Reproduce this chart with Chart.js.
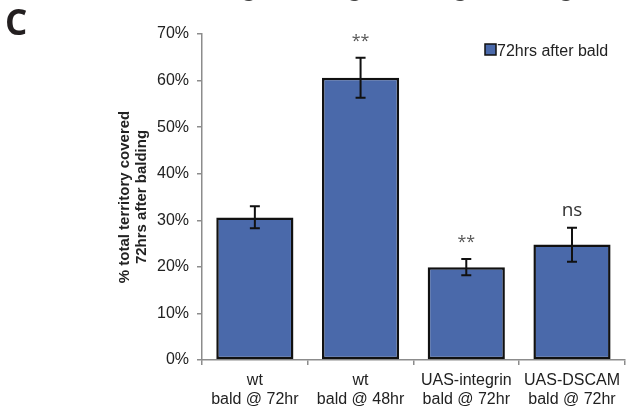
<!DOCTYPE html>
<html>
<head>
<meta charset="utf-8">
<script src="https://cdn.jsdelivr.net/npm/chart.js@4.4.1/dist/chart.umd.min.js"></script>
<style>
    html, body { margin: 0; padding: 0; background: #fff; }
    canvas { display: block; }
</style>
</head>
<body>
<canvas id="territoryChart" width="626" height="410"></canvas>
<script>
// data
var categories = [['wt', 'bald @ 72hr'], ['wt', 'bald @ 48hr'], ['UAS-integrin', 'bald @ 72hr'], ['UAS-DSCAM', 'bald @ 72hr']];
var coverage   = [30.6, 60.6, 19.9, 24.8];
var errLow     = [28.3, 56.3, 18.2, 21.1];
var errHigh    = [33.0, 64.9, 21.7, 28.4];
var sigLabels  = ['', '**', '**', 'ns'];
var yTicks     = [0, 10, 20, 30, 40, 50, 60, 70];
var seriesName = '72hrs after bald';
var yTitle     = ['% total territory covered', '72hrs after balding'];
var panelLetter = 'C';
var prevPanelText = 'bald @ 72hr';

(function () {
    var canvas = document.getElementById('territoryChart');
    if (!canvas) return;
    var ctx = canvas.getContext('2d');

    var BLUE = '#4a69aa';
    var AXIS = '#8c8c8c';
    var TEXT = '#222222';

    // error bars + significance marks
    var errorBarPlugin = {
        id: 'errorBars',
        afterDatasetsDraw: function (chart) {
            var c = chart.ctx;
            var y = chart.scales.y;
            var meta = chart.getDatasetMeta(0);
            c.save();
            c.strokeStyle = '#111';
            c.lineWidth = 2;
            meta.data.forEach(function (bar, i) {
                var x = bar.x;
                var lo = y.getPixelForValue(errLow[i]);
                var hi = y.getPixelForValue(errHigh[i]);
                c.beginPath();
                c.moveTo(x, lo); c.lineTo(x, hi);
                c.moveTo(x - 5, lo); c.lineTo(x + 5, lo);
                c.moveTo(x - 5, hi); c.lineTo(x + 5, hi);
                c.stroke();

                if (sigLabels[i]) {
                    c.textAlign = 'center';
                    c.textBaseline = 'alphabetic';
                    if (sigLabels[i] === 'ns') {
                        c.fillStyle = '#333';
                        c.font = '19px "Open Sans", sans-serif';
                    } else {
                        c.fillStyle = '#555';
                        c.font = '16px "Open Sans", sans-serif';
                    }
                    c.fillText(sigLabels[i], x, hi - 12);
                }
            });
            c.restore();
        }
    };

    // legend box, panel letter, cut-off text of the panel above
    var decorPlugin = {
        id: 'decor',
        afterDraw: function (chart) {
            var c = chart.ctx;
            var meta = chart.getDatasetMeta(0);
            c.save();
            c.fillStyle = BLUE;
            c.fillRect(485, 44, 11, 11);
            c.strokeStyle = '#111';
            c.lineWidth = 1.5;
            c.strokeRect(485, 44, 11, 11);
            c.fillStyle = TEXT;
            c.font = '16px "Liberation Sans", Arial, sans-serif';
            c.textAlign = 'left';
            c.textBaseline = 'alphabetic';
            c.fillText(chart.data.datasets[0].label, 497, 56);

            c.fillStyle = '#231f20';
            c.font = 'bold 35px "Open Sans", sans-serif';
            c.fillText(panelLetter, 5, 35);

            c.fillStyle = '#444';
            c.font = '16px "Liberation Sans", Arial, sans-serif';
            c.textAlign = 'center';
            meta.data.forEach(function (bar) {
                c.fillText(prevPanelText, bar.x - 5, -1);
            });
            c.restore();
        }
    };

    new Chart(ctx, {
        type: 'bar',
        data: {
            labels: categories,
            datasets: [{
                label: seriesName,
                data: coverage,
                backgroundColor: BLUE,
                borderColor: '#111',
                borderWidth: 2.5,
                borderSkipped: false,
                barPercentage: 0.73,
                categoryPercentage: 1
            }]
        },
        options: {
            responsive: false,
            animation: false,
            layout: { padding: { top: 34, left: 0, right: 0, bottom: 0 } },
            plugins: {
                legend: { display: false },
                tooltip: { enabled: false }
            },
            scales: {
                x: {
                    grid: {
                        drawOnChartArea: false,
                        tickLength: 5,
                        color: AXIS,
                        lineWidth: 1.5
                    },
                    border: { color: AXIS, width: 1.5 },
                    ticks: {
                        color: TEXT,
                        autoSkip: false,
                        maxRotation: 0,
                        padding: 6,
                        font: { family: 'Liberation Sans', size: 16, lineHeight: 1.2 }
                    },
                    afterFit: function (scale) { scale.height = 50; }
                },
                y: {
                    min: 0,
                    max: 70,
                    afterBuildTicks: function (axis) {
                        axis.ticks = yTicks.map(function (v) { return { value: v }; });
                    },
                    grid: {
                        drawOnChartArea: false,
                        tickLength: 5,
                        color: AXIS,
                        lineWidth: 1.5
                    },
                    border: { color: AXIS, width: 1.5 },
                    ticks: {
                        color: TEXT,
                        padding: 8,
                        font: { family: 'Liberation Sans', size: 16 },
                        callback: function (value) { return value + '%'; }
                    },
                    title: {
                        display: true,
                        text: yTitle,
                        color: TEXT,
                        font: { family: 'Liberation Sans', size: 15, weight: 'bold', lineHeight: 1.1 },
                        padding: { top: 117, bottom: 0 }
                    },
                    afterFit: function (scale) { scale.width = 202; }
                }
            }
        },
        plugins: [errorBarPlugin, decorPlugin]
    });
})();
</script>
</body>
</html>
